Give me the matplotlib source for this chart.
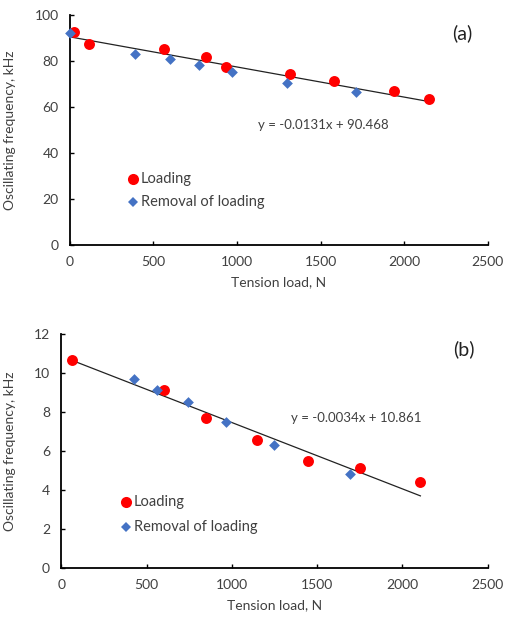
import matplotlib.pyplot as plt
import numpy as np

plt.rcParams['font.family'] = ['Lato', 'DejaVu Sans']

# panel (a)
load_a_x = [24, 114, 565, 814, 934, 1319, 1580, 1941, 2149]
load_a_y = [92.8, 87.4, 85.3, 81.6, 77.3, 74.4, 71.4, 67.0, 63.4]
rem_a_x = [4, 389, 600, 770, 972, 1299, 1710]
rem_a_y = [92.2, 82.9, 80.8, 78.1, 75.0, 70.4, 66.3]
fit_a = (-0.0131, 90.468)
fit_a_range = [0, 2150]

# panel (b)
load_b_x = [66, 600, 846, 1145, 1447, 1754, 2105]
load_b_y = [10.67, 9.11, 7.69, 6.58, 5.5, 5.11, 4.39]
rem_b_x = [426, 563, 742, 963, 1248, 1691]
rem_b_y = [9.68, 9.11, 8.5, 7.49, 6.29, 4.82]
fit_b = (-0.0034, 10.861)
fit_b_range = [66, 2105]

gray = '#404040'

fig = plt.figure(figsize=(5.06, 6.23), dpi=100)
ax_a = fig.add_axes([0.138, 0.607, 0.826, 0.369])
ax_b = fig.add_axes([0.121, 0.088, 0.843, 0.376])

panels = [
    (ax_a, load_a_x, load_a_y, rem_a_x, rem_a_y, fit_a, fit_a_range, 100, 20, '(a)',
     'y = -0.0131x + 90.468', (258, 125), (462, 33), (133, 179), (133, 202)),
    (ax_b, load_b_x, load_b_y, rem_b_x, rem_b_y, fit_b, fit_b_range, 12, 2, '(b)',
     'y = -0.0034x + 10.861', (291, 418), (464, 349), (126, 502), (126, 527)),
]

W, H = 506, 623
for (ax, lx, ly, rx, ry, fit, fr, ymax, ystep, tag, eq, eqpos, tagpos, l1, l2) in panels:
    fx = np.array(fr)
    ax.plot(fx, fit[0] * fx + fit[1], color='#222222', lw=0.9, zorder=1)
    ax.scatter(lx, ly, s=62, color='#ff0000', marker='o', zorder=3, linewidths=0, clip_on=False)
    ax.scatter(rx, ry, s=30, color='#4472c4', marker='D', zorder=4, linewidths=0, clip_on=False)
    ax.set_xlim(0, 2500)
    ax.set_ylim(0, ymax)
    ax.set_xticks(range(0, 2501, 500))
    ax.set_yticks(np.arange(0, ymax + 0.1, ystep))
    for s in ['top', 'right']:
        ax.spines[s].set_visible(False)
    for s in ['left', 'bottom']:
        ax.spines[s].set_linewidth(1.3)
    ax.tick_params(direction='in', length=3, width=1, labelsize=10, labelcolor=gray, pad=8)
    ax.set_xlabel('Tension load, N', fontsize=10, color=gray, labelpad=6)
    ax.set_ylabel('Oscillating frequency, kHz', fontsize=10, color=gray)
    fig.text(eqpos[0] / W, 1 - eqpos[1] / H, eq, fontsize=9.5, color=gray, va='center', ha='left')
    fig.text(tagpos[0] / W, 1 - tagpos[1] / H, tag, fontsize=14, color='#222222', va='center', ha='center')
    # legend entries
    fig.text((l1[0] + 8) / W, 1 - l1[1] / H, 'Loading', fontsize=10.5, color=gray, va='center')
    fig.text((l2[0] + 8) / W, 1 - l2[1] / H, 'Removal of loading', fontsize=10.5, color=gray, va='center')
    fig.lines.append(plt.Line2D([l1[0] / W], [1 - l1[1] / H], marker='o', color='#ff0000',
                                markersize=8, markeredgewidth=0, transform=fig.transFigure, figure=fig))
    fig.lines.append(plt.Line2D([l2[0] / W], [1 - l2[1] / H], marker='D', color='#4472c4',
                                markersize=5, markeredgewidth=0, transform=fig.transFigure, figure=fig))

ax_a.yaxis.set_label_coords(-0.128, 0.5)
ax_b.yaxis.set_label_coords(-0.105, 0.5)

fig.savefig('out.png', dpi=100)
